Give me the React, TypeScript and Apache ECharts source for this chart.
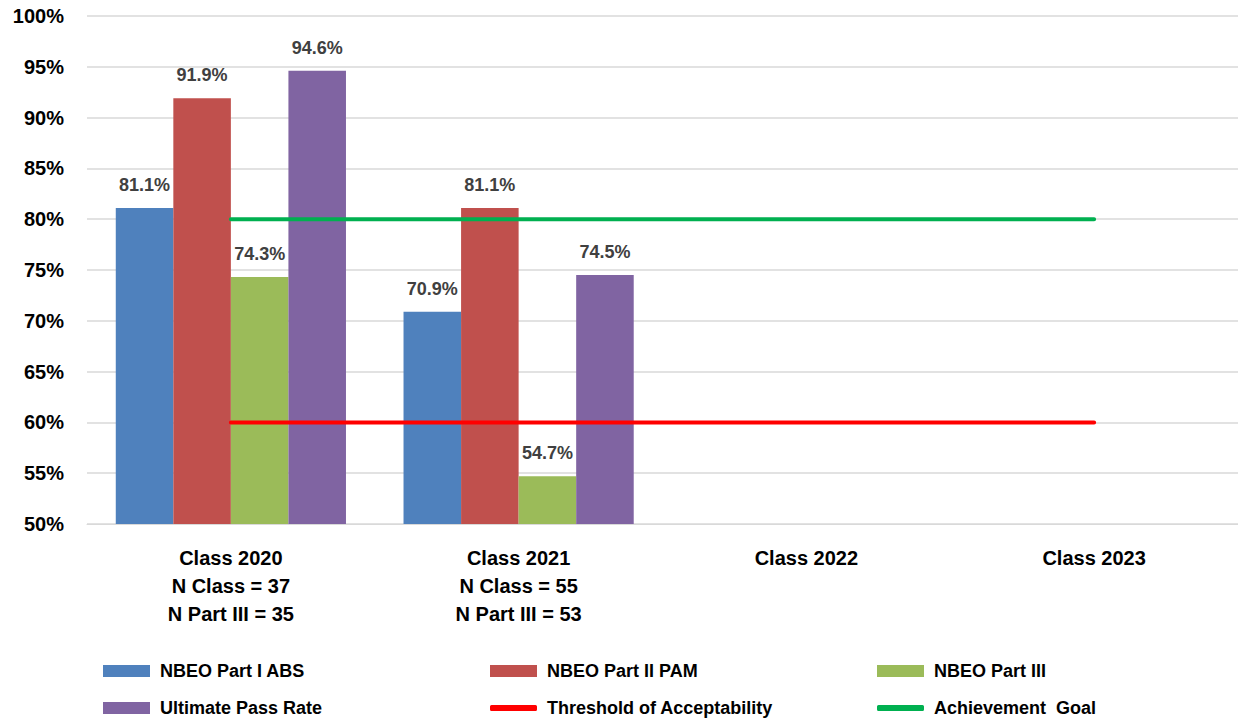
import React, { useEffect, useRef } from "react";
import * as echarts from "echarts";

const categories = [
  "Class 2020\nN Class = 37\nN Part III = 35",
  "Class 2021\nN Class = 55\nN Part III = 53",
  "Class 2022",
  "Class 2023",
];
const partI = [81.1, 70.9, null, null];
const partII = [91.9, 81.1, null, null];
const partIII = [74.3, 54.7, null, null];
const ultimate = [94.6, 74.5, null, null];
const threshold = [60, 60, 60, 60];
const goal = [80, 80, 80, 80];

const FONT = "'Liberation Sans', Arial, sans-serif";

export default function App() {
  const ref = useRef<HTMLDivElement>(null);
  useEffect(() => {
    const chart = echarts.init(ref.current!, null, { renderer: "svg" });
    const label = {
      show: true,
      position: "top",
      distance: 14,
      color: "#404040",
      fontWeight: "bold",
      fontSize: 18,
      fontFamily: FONT,
      formatter: (p: any) => (p.value == null ? "" : p.value.toFixed(1) + "%"),
    };
    const mkLegend = (name: string, left: number, top: number, line: boolean) => ({
      data: [name],
      left,
      top,
      icon: line ? "roundRect" : "rect",
      itemWidth: 47,
      itemHeight: line ? 6 : 12,
      textStyle: {
        color: "#000",
        fontWeight: "bold",
        fontSize: 18,
        fontFamily: FONT,
        padding: [0, 0, 0, 5],
      },
      selectedMode: false,
    });
    chart.setOption({
      animation: false,
      backgroundColor: "#fff",
      grid: { left: 87, right: 0, top: 16, bottom: 195, containLabel: false },
      legend: [
        mkLegend("NBEO Part I ABS", 98, 657, false),
        mkLegend("NBEO Part II PAM", 485, 657, false),
        mkLegend("NBEO Part III", 872, 657, false),
        mkLegend("Ultimate Pass Rate", 98, 694, false),
        mkLegend("Threshold of Acceptability", 485, 694, true),
        mkLegend("Achievement  Goal", 872, 694, true),
      ],
      xAxis: {
        type: "category",
        data: categories,
        axisTick: { show: false },
        axisLine: { lineStyle: { color: "#d9d9d9", width: 1 } },
        axisLabel: {
          color: "#000",
          fontWeight: "bold",
          fontSize: 20,
          fontFamily: FONT,
          lineHeight: 28,
          margin: 20,
        },
      },
      yAxis: {
        type: "value",
        min: 50,
        max: 100,
        interval: 5,
        axisLine: { show: false },
        axisTick: { show: false },
        splitLine: { lineStyle: { color: "#d9d9d9", width: 1.5 } },
        axisLabel: {
          formatter: "{value}%",
          color: "#000",
          fontWeight: "bold",
          fontSize: 20,
          fontFamily: FONT,
          margin: 23,
        },
      },
      series: [
        { name: "NBEO Part I ABS", type: "bar", data: partI, barGap: "0%", barCategoryGap: "20%", itemStyle: { color: "#4f81bd" }, label },
        { name: "NBEO Part II PAM", type: "bar", data: partII, barGap: "0%", barCategoryGap: "20%", itemStyle: { color: "#c0504d" }, label },
        { name: "NBEO Part III", type: "bar", data: partIII, barGap: "0%", barCategoryGap: "20%", itemStyle: { color: "#9bbb59" }, label },
        { name: "Ultimate Pass Rate", type: "bar", data: ultimate, barGap: "0%", barCategoryGap: "20%", itemStyle: { color: "#8064a2" }, label },
        {
          name: "Threshold of Acceptability",
          type: "line",
          data: threshold,
          symbol: "none",
          itemStyle: { color: "#ff0000" },
          lineStyle: { color: "#ff0000", width: 4, cap: "round" },
          z: 5,
        },
        {
          name: "Achievement  Goal",
          type: "line",
          data: goal,
          symbol: "none",
          itemStyle: { color: "#00b050" },
          lineStyle: { color: "#00b050", width: 4, cap: "round" },
          z: 5,
        },
      ],
    });
    return () => chart.dispose();
  }, []);
  return <div ref={ref} style={{ width: 1238, height: 719, position: "absolute", left: 0, top: 0 }} />;
}
